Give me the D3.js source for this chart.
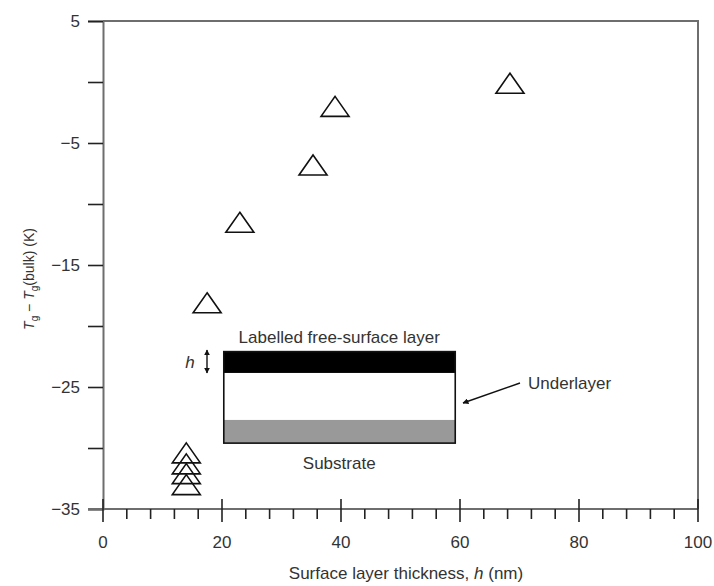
<!DOCTYPE html>
<html>
<head>
<meta charset="utf-8">
<script src="https://cdn.jsdelivr.net/npm/d3@7"></script>
<style>
  body { margin: 0; background: #fff; }
  svg text { font-family: "Liberation Sans Narrow", "Arial Narrow", "Liberation Sans", sans-serif; fill: #333; }
</style>
</head>
<body>
<script>
// data: surface layer thickness (nm) vs Tg shift (K)
const thickness = [14, 14, 14, 14, 17.5, 23, 35.3, 39, 68.4]
const tgShift = [-30.4, -31.3, -32.1, -33.0, -18.1, -11.5, -6.8, -2.0, -0.1]

const xTicksMajor = [0, 20, 40, 60, 80, 100]
const yTicks = [-35, -30, -25, -20, -15, -10, -5, 0, 5]
const yTickLabels = [-35, -25, -15, -5, 5]

const width = 714, height = 586
const margin = { top: 21, right: 16, bottom: 77, left: 103 }
const fs = 17

const svg = d3.select('body').append('svg')
    .attr('width', width)
    .attr('height', height)

const x = d3.scaleLinear().domain([0, 100]).range([margin.left, width - margin.right])
const y = d3.scaleLinear().domain([-35, 5]).range([height - margin.bottom, margin.top])

const axisColor = '#6e6e6e'

// frame: top and right
svg.append('path')
    .attr('d', `M${x(0)},${y(5)}H${x(100)}V${y(-35)}`)
    .attr('fill', 'none')
    .attr('stroke', axisColor)
    .attr('stroke-width', 2)

// y axis, ticks every 5, labels on the odd ones
const yAxis = d3.axisLeft(y)
    .tickValues(yTicks)
    .tickSize(15)
    .tickPadding(8)
    .tickFormat(d => yTickLabels.includes(d) ? d3.format('')(d).replace('-', '\u2212') : '')

const gy = svg.append('g')
    .attr('transform', `translate(${x(0)},0)`)
    .call(yAxis)
gy.select('.domain').attr('stroke', axisColor).attr('stroke-width', 2)
gy.selectAll('.tick line').attr('stroke', '#222').attr('stroke-width', 1.6)
gy.selectAll('.tick text').attr('font-size', fs).attr('font-family', null)

// x axis: minor ticks every 4 going down, majors every 20 crossing the line
const xMinor = d3.range(0, 101, 4).filter(d => d % 20 !== 0)
const gx = svg.append('g')
    .attr('transform', `translate(0,${y(-35)})`)

gx.append('line')
    .attr('x1', x(0) - 15).attr('x2', x(100))
    .attr('stroke', axisColor).attr('stroke-width', 2)

gx.selectAll('.minor').data(xMinor).join('line')
    .attr('class', 'minor')
    .attr('x1', d => x(d)).attr('x2', d => x(d))
    .attr('y1', 0).attr('y2', 10)
    .attr('stroke', '#222').attr('stroke-width', 1.6)

gx.selectAll('.major').data(xTicksMajor).join('line')
    .attr('class', 'major')
    .attr('x1', d => x(d)).attr('x2', d => x(d))
    .attr('y1', -10).attr('y2', 13)
    .attr('stroke', '#222').attr('stroke-width', 1.6)

gx.selectAll('.xlab').data(xTicksMajor).join('text')
    .attr('class', 'xlab')
    .attr('x', d => x(d))
    .attr('y', 39)
    .attr('text-anchor', 'middle')
    .attr('font-size', fs)
    .text(d => d)

// axis titles
const xTitle = svg.append('text')
    .attr('x', 406)
    .attr('y', 579)
    .attr('text-anchor', 'middle')
    .attr('font-size', fs)
xTitle.append('tspan').text('Surface layer thickness, ')
xTitle.append('tspan').attr('font-style', 'italic').text('h')
xTitle.append('tspan').text(' (nm)')

const yTitle = svg.append('text')
    .attr('transform', `translate(34,${279}) rotate(-90)`)
    .attr('text-anchor', 'middle')
    .attr('font-size', 14)
yTitle.append('tspan').attr('font-style', 'italic').text('T')
yTitle.append('tspan').attr('font-size', 10).attr('dy', 4).text('g')
yTitle.append('tspan').attr('dy', -4).text(' \u2212 ')
yTitle.append('tspan').attr('font-style', 'italic').text('T')
yTitle.append('tspan').attr('font-size', 10).attr('dy', 4).text('g')
yTitle.append('tspan').attr('dy', -4).text('(bulk) (K)')

// triangle markers
const tri = (w, h) => `M0,${-h / 2}L${w / 2},${h / 2}L${-w / 2},${h / 2}Z`
svg.append('g').selectAll('path')
    .data(thickness.map((t, i) => ({ t, v: tgShift[i] })))
    .join('path')
    .attr('transform', d => `translate(${x(d.t)},${y(d.v)})`)
    .attr('d', tri(28, 20))
    .attr('fill', 'none')
    .attr('stroke', '#111')
    .attr('stroke-width', 1.6)

// inset schematic of the sample (in data units)
const layers = [
    { top: -22.1, bottom: -23.85, fill: '#000' },
    { top: -23.85, bottom: -27.7, fill: '#fff' },
    { top: -27.7, bottom: -29.6, fill: '#999' }
]
const boxLeft = 20.3, boxRight = 59.2
const inset = svg.append('g')
inset.selectAll('rect').data(layers).join('rect')
    .attr('x', x(boxLeft))
    .attr('width', x(boxRight) - x(boxLeft))
    .attr('y', d => y(d.top))
    .attr('height', d => y(d.bottom) - y(d.top))
    .attr('fill', d => d.fill)
inset.append('rect')
    .attr('x', x(boxLeft))
    .attr('width', x(boxRight) - x(boxLeft))
    .attr('y', y(-22.1))
    .attr('height', y(-29.6) - y(-22.1))
    .attr('fill', 'none')
    .attr('stroke', '#111')
    .attr('stroke-width', 1.6)

inset.append('text')
    .attr('x', x(39.7)).attr('y', 343)
    .attr('text-anchor', 'middle').attr('font-size', fs)
    .text('Labelled free-surface layer')
inset.append('text')
    .attr('x', x(39.7)).attr('y', 469)
    .attr('text-anchor', 'middle').attr('font-size', fs)
    .text('Substrate')
inset.append('text')
    .attr('x', 528).attr('y', 389)
    .attr('font-size', fs)
    .text('Underlayer')
inset.append('text')
    .attr('x', 190).attr('y', 368)
    .attr('text-anchor', 'middle').attr('font-size', fs)
    .attr('font-style', 'italic')
    .text('h')

const defs = svg.append('defs')
defs.append('marker')
    .attr('id', 'head')
    .attr('viewBox', '0 0 10 10')
    .attr('refX', 9).attr('refY', 5)
    .attr('markerWidth', 6).attr('markerHeight', 6)
    .attr('markerUnits', 'userSpaceOnUse')
    .attr('orient', 'auto-start-reverse')
    .append('path').attr('d', 'M0,0L10,5L0,10Z').attr('fill', '#111')

inset.append('line')
    .attr('x1', 520).attr('y1', 383)
    .attr('x2', 463).attr('y2', 403)
    .attr('stroke', '#111').attr('stroke-width', 1.4)
    .attr('marker-end', 'url(#head)')
inset.append('line')
    .attr('x1', 207).attr('y1', 350)
    .attr('x2', 207).attr('y2', 373)
    .attr('stroke', '#111').attr('stroke-width', 1.4)
    .attr('marker-start', 'url(#head)')
    .attr('marker-end', 'url(#head)')
</script>
</body>
</html>
